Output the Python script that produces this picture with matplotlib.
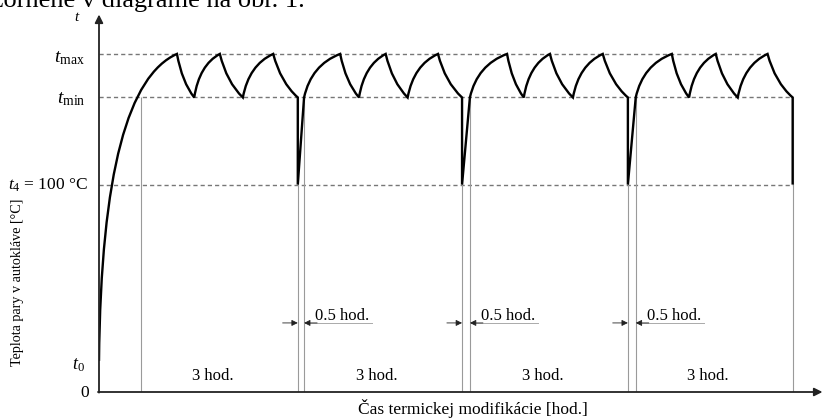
#!/usr/bin/env python3
"""Schematic steam temperature cycle in the autoclave during thermal modification."""

import matplotlib
matplotlib.use("Agg")
import matplotlib.pyplot as plt
from matplotlib.path import Path
from matplotlib.patches import PathPatch

plt.rcParams["font.family"] = ["Liberation Serif", "DejaVu Serif"]
plt.rcParams["mathtext.fontset"] = "custom"
plt.rcParams["mathtext.rm"] = "Liberation Serif"
plt.rcParams["mathtext.it"] = "Liberation Serif:italic"

# temperature levels (schematic, t4 = 100 °C)
T0, T4, TMIN, TMAX = 15, 100, 142, 163
level_values = [TMAX, TMIN, T4]
level_labels = [r"$t_{\mathrm{max}}$", r"$t_{\mathrm{min}}$", r"$t_4$ = 100 °C"]

# cusp points of the curve: time [h] and temperature
key_times = [0.0, 1.49, 1.82, 2.31, 2.75, 3.33, 3.80, 3.80, 3.92,
             4.61, 4.97, 5.48, 5.90, 6.48, 6.94, 6.94, 7.09,
             7.80, 8.12, 8.62, 9.06, 9.63, 10.11, 10.11, 10.26,
             10.95, 11.28, 11.79, 12.21, 12.78, 13.26, 13.26]
key_temps = [T0, TMAX, TMIN, TMAX, TMIN, TMAX, TMIN, T4, TMIN,
             TMAX, TMIN, TMAX, TMIN, TMAX, TMIN, T4, TMIN,
             TMAX, TMIN, TMAX, TMIN, TMAX, TMIN, T4, TMIN,
             TMAX, TMIN, TMAX, TMIN, TMAX, TMIN, T4]

# thin vertical guides (start of each 3 h stage, drop, recovery, end)
guide_times = [0.80, 3.80, 3.92, 6.94, 7.09, 10.11, 10.26, 13.26]
drop_times = [3.80, 6.94, 10.11]
recover_times = [3.92, 7.09, 10.26]
stage_starts = [0.80, 3.92, 7.09, 10.26]
stage_ends = [3.80, 6.94, 10.11, 13.26]
stage_label = "3 hod."
gap_label = "0.5 hod."

X_MAX, Y_MAX = 13.84, 189
X_ARROW, Y_ARROW = 13.83, 182
DIM_Y = 33.3


def build_curve():
    verts = [(key_times[0], key_temps[0])]
    codes = [Path.MOVETO]
    for i in range(1, len(key_times)):
        x0, y0 = key_times[i - 1], key_temps[i - 1]
        x1, y1 = key_times[i], key_temps[i]
        dx, dy = x1 - x0, y1 - y0
        if i == 1:
            verts += [(x0 + 0.025 * dx, y0 + 0.62 * dy),
                      (x0 + 0.38 * dx, y0 + 0.93 * dy), (x1, y1)]
            codes += [Path.CURVE4] * 3
        elif dx == 0 or y0 == T4:
            verts.append((x1, y1))
            codes.append(Path.LINETO)
        elif dy > 0:
            verts += [(x0 + 0.2 * dx, y0 + 0.75 * dy), (x1, y1)]
            codes += [Path.CURVE3] * 2
        else:
            verts += [(x0 + 0.3 * dx, y1 - 0.35 * dy), (x1, y1)]
            codes += [Path.CURVE3] * 2
    return Path(verts, codes)


fig = plt.figure(figsize=(8.23, 4.19), dpi=100)
ax = fig.add_axes([99 / 823, 27 / 419, 724 / 823, 392 / 419])
ax.set_xlim(0, X_MAX)
ax.set_ylim(0, Y_MAX)
ax.axis("off")

# dashed reference levels
peak_end = max(t for t, v in zip(key_times, key_temps) if v == TMAX)
for lev in level_values:
    end = peak_end if lev == TMAX else key_times[-1]
    ax.plot([0, end], [lev, lev], color="#777777", lw=1.0,
            dashes=(3, 2.2), zorder=1)

# guides
ax.vlines(guide_times, 0, TMIN, color="#9a9a9a", lw=0.8, zorder=1)

# curve
ax.add_patch(PathPatch(build_curve(), facecolor="none", edgecolor="black",
                       lw=1.7, joinstyle="miter", capstyle="butt", zorder=3))

# axes with arrows
arrow = dict(arrowstyle="-|>", color="#222222", lw=1.3, mutation_scale=12,
             shrinkA=0, shrinkB=0)
ax.annotate("", xy=(0, Y_ARROW), xytext=(0, -0.3), arrowprops=arrow,
            annotation_clip=False)
ax.annotate("", xy=(X_ARROW, 0), xytext=(-0.02, 0), arrowprops=arrow,
            annotation_clip=False)

# level labels
offsets = [(-10, -3), (-9.5, -1.5), (-8, -0.5)]
sizes = [14, 14, 12.5]
for lev, lab, off, fs in zip(level_values, level_labels, offsets, sizes):
    ax.annotate(lab, xy=(0, lev), xytext=off, textcoords="offset points",
                ha="right", va="center", fontsize=fs)
ax.annotate(r"$t_0$", xy=(0, T0), xytext=(-10, -3), textcoords="offset points",
            ha="right", va="center", fontsize=13)
ax.annotate("0", xy=(0, 0), xytext=(-7, -0.5), textcoords="offset points",
            ha="right", va="center", fontsize=12.5)
ax.annotate(r"$t$", xy=(0, Y_ARROW), xytext=(-16, -2), textcoords="offset points",
            ha="center", va="center", fontsize=11)

# 0.5 h dimension marks
small = dict(arrowstyle="-|>", color="#222222", lw=0.6, mutation_scale=9,
             shrinkA=0, shrinkB=0)
for td, tr in zip(drop_times, recover_times):
    ax.annotate("", xy=(td, DIM_Y), xytext=(td - 0.29, DIM_Y), arrowprops=small)
    ax.plot([tr, tr + 1.3], [DIM_Y, DIM_Y], color="#aaaaaa", lw=0.7)
    ax.annotate("", xy=(tr, DIM_Y), xytext=(tr + 0.25, DIM_Y), arrowprops=small)
    ax.text(tr + 0.21, DIM_Y + 1.4, gap_label, ha="left", va="baseline",
            fontsize=12)

# 3 h stage labels
for a, b in zip(stage_starts, stage_ends):
    ax.text((a + b) / 2 - 0.12, 5.8, stage_label, ha="center", va="baseline",
            fontsize=12)

# axis titles
fig.text(18 / 823, 1 - 282 / 419, "Teplota pary v autokláve [°C]",
         rotation=90, ha="center", va="center", fontsize=10.2)
fig.text(473 / 823, 1 - 408 / 419, "Čas termickej modifikácie [hod.]",
         ha="center", va="center", fontsize=12.5)

# cut-off line of the surrounding page text
fig.text(305 / 823, 1 - 7 / 419, "znázornené v diagrame na obr. 1.",
         ha="right", va="baseline", fontsize=19)

fig.savefig("out.png", dpi=100)
